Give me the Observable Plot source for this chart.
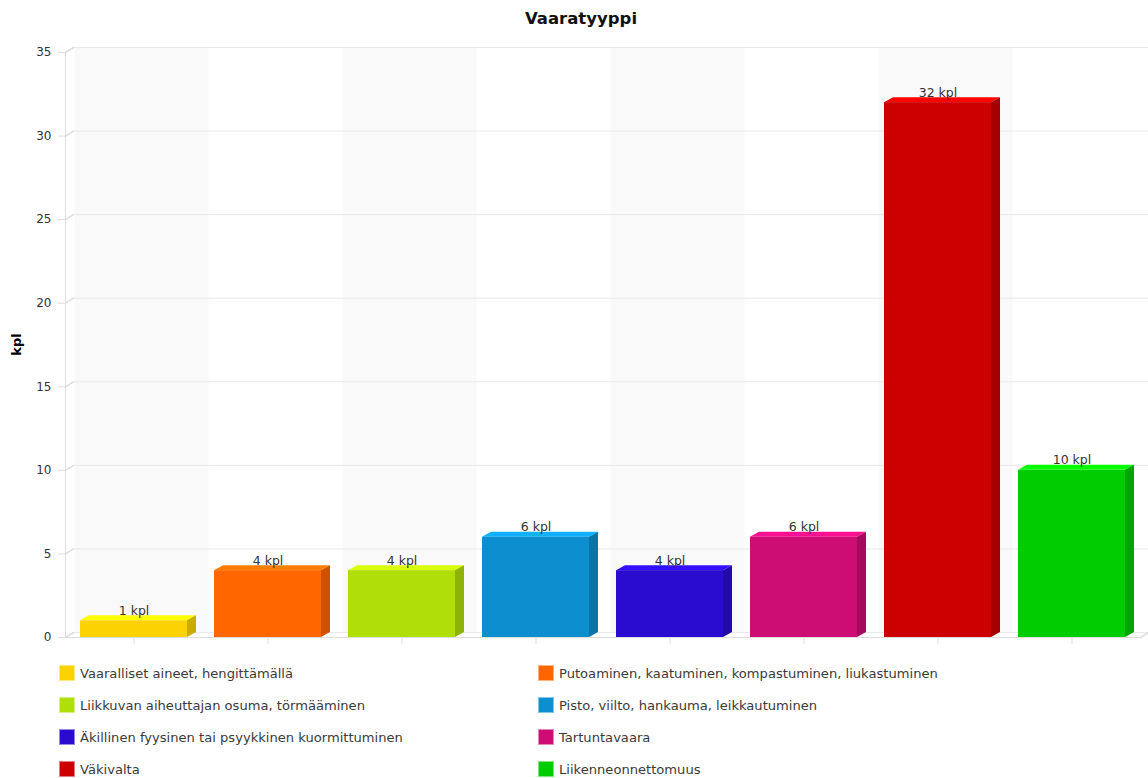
<!DOCTYPE html>
<html>
<head>
<meta charset="utf-8">
<script src="https://cdn.jsdelivr.net/npm/d3@7"></script>
<script src="https://cdn.jsdelivr.net/npm/@observablehq/plot@0.6"></script>
<style>
  html, body { margin: 0; padding: 0; background: #fff; }
  body { width: 1148px; height: 778px; overflow: hidden; font-family: "DejaVu Sans", Verdana, sans-serif; color: #333; }
  #title { height: 38px; line-height: 38px; text-align: center; font-weight: bold; font-size: 16.5px; color: #111; padding-left: 14px; }
  #chart svg { display: block; }
  #legend { position: relative; height: 125px; }
  .item { position: absolute; height: 32px; display: flex; align-items: center; font-size: 13.1px; color: #3a3a3a; white-space: nowrap; }
  .sw { width: 16px; height: 16px; margin-right: 5px; box-sizing: border-box; border: 1px solid rgba(255,255,255,0.5); }
</style>
</head>
<body>
<div id="title">Vaaratyyppi</div>
<div id="chart"></div>
<div id="legend"></div>
<script>
const categories = [
  "Vaaralliset aineet, hengittämällä",
  "Putoaminen, kaatuminen, kompastuminen, liukastuminen",
  "Liikkuvan aiheuttajan osuma, törmääminen",
  "Pisto, viilto, hankauma, leikkautuminen",
  "Äkillinen fyysinen tai psyykkinen kuormittuminen",
  "Tartuntavaara",
  "Väkivalta",
  "Liikenneonnettomuus"
];
const values = [1, 4, 4, 6, 4, 6, 32, 10];
const colors = ["#FCD202", "#FF6600", "#B0DE09", "#0D8ECF", "#2A0CD0", "#CD0D74", "#CC0000", "#00CC00"];
const yTicks = [0, 5, 10, 15, 20, 25, 30, 35];
const unit = "kpl";

const data = categories.map((c, i) => ({cat: c, value: values[i], color: colors[i], shaded: i % 2 === 0}));

const DX = 8, DY = -5;       // depth of the 3D plane
const BDX = 9, BDY = -5;     // depth of the columns

function faces(index, scales, vals) {
  const bw = scales.x.bandwidth();
  const g = d3.create("svg:g");
  for (const i of index) {
    const x0 = vals.x[i];
    const yTop = Math.min(vals.y1[i], vals.y2[i]);
    const yBot = Math.max(vals.y1[i], vals.y2[i]);
    const c = d3.color(data[i].color);
    g.append("path")
      .attr("d", `M${x0},${yTop}L${x0 + BDX},${yTop + BDY}L${x0 + bw + BDX},${yTop + BDY}L${x0 + bw},${yTop}Z`)
      .attr("fill", c.brighter(0.6).formatHex());
    g.append("path")
      .attr("d", `M${x0 + bw},${yTop}L${x0 + bw + BDX},${yTop + BDY}L${x0 + bw + BDX},${yBot + BDY}L${x0 + bw},${yBot}Z`)
      .attr("fill", c.darker(0.6).formatHex());
  }
  return g.node();
}

const spike = {
  draw(context, l) { context.moveTo(0, 0); context.lineTo(0, -l); }
};

const W = 1148, H = 615;
const padOuter = 0.1, padInner = 0.2;
const rot = Math.atan2(DX, -DY) * 180 / Math.PI;
const depth = Math.hypot(DX, DY);

const plot = Plot.plot({
  width: W,
  height: H,
  marginTop: 14,
  marginBottom: 16,
  marginLeft: 65,
  marginRight: 8,
  style: {fontFamily: "DejaVu Sans, Verdana, sans-serif", fontSize: "12px", color: "#333", overflow: "visible"},
  x: {domain: categories, paddingInner: padInner, paddingOuter: padOuter, axis: null},
  y: {domain: [0, 35], ticks: yTicks, axis: null},
  marks: [
    // alternating shaded bands on the back plane
    Plot.barY(data.filter(d => d.shaded), {
      x: "cat", y1: 0, y2: 35, fill: "#f9f9f9",
      insetLeft: -13.4, insetRight: -13.4, dx: DX, dy: DY
    }),
    // back-plane grid lines
    Plot.ruleY(yTicks, {stroke: "#e8e8e8", strokeWidth: 1, dx: DX, dy: DY, insetRight: -DX}),
    // diagonal connectors from front ticks to back grid
    Plot.vector(yTicks, {y: d => d, frameAnchor: "left", length: depth, rotate: rot, anchor: "start", shape: spike, stroke: "#dddddd"}),
    // front axis lines
    Plot.frame({anchor: "left", stroke: "#dddddd"}),
    Plot.frame({anchor: "bottom", stroke: "#dddddd"}),
    Plot.vector([0], {y: d => d, frameAnchor: "right", length: depth, rotate: rot, anchor: "start", shape: spike, stroke: "#dddddd"}),
    // front y ticks and labels
    Plot.axisY({ticks: yTicks, tickSize: 7, stroke: "#dddddd", tickPadding: 7, fill: "#333", fontSize: 12, label: null}),
    Plot.axisX({tickSize: 7, stroke: "#dddddd", tickFormat: () => "", label: null}),
    // 3D faces of columns
    Plot.barY(data, {x: "cat", y: "value", render: faces}),
    // front faces of columns
    Plot.barY(data, {x: "cat", y: "value", fill: d => d.color}),
    // value labels
    Plot.text(data, {x: "cat", y: "value", text: d => `${d.value} ${unit}`, dy: -10, fill: "#333", fontSize: 12.5})
  ]
});

// y-axis title "kpl"
const svg = d3.select(plot);
svg.append("text")
  .attr("transform", `translate(21,${14 + (H - 30) / 2}) rotate(-90)`)
  .attr("text-anchor", "middle")
  .attr("font-weight", "bold")
  .attr("font-size", 13)
  .attr("fill", "#000")
  .text(unit);

document.getElementById("chart").appendChild(plot);

// legend
const legend = document.getElementById("legend");
categories.forEach((c, i) => {
  const col = i % 2, row = Math.floor(i / 2);
  const item = document.createElement("div");
  item.className = "item";
  item.style.left = (col === 0 ? 59 : 538) + "px";
  item.style.top = (4 + row * 32) + "px";
  const sw = document.createElement("div");
  sw.className = "sw";
  sw.style.background = colors[i];
  const t = document.createElement("span");
  t.textContent = c;
  item.appendChild(sw);
  item.appendChild(t);
  legend.appendChild(item);
});
</script>
</body>
</html>
